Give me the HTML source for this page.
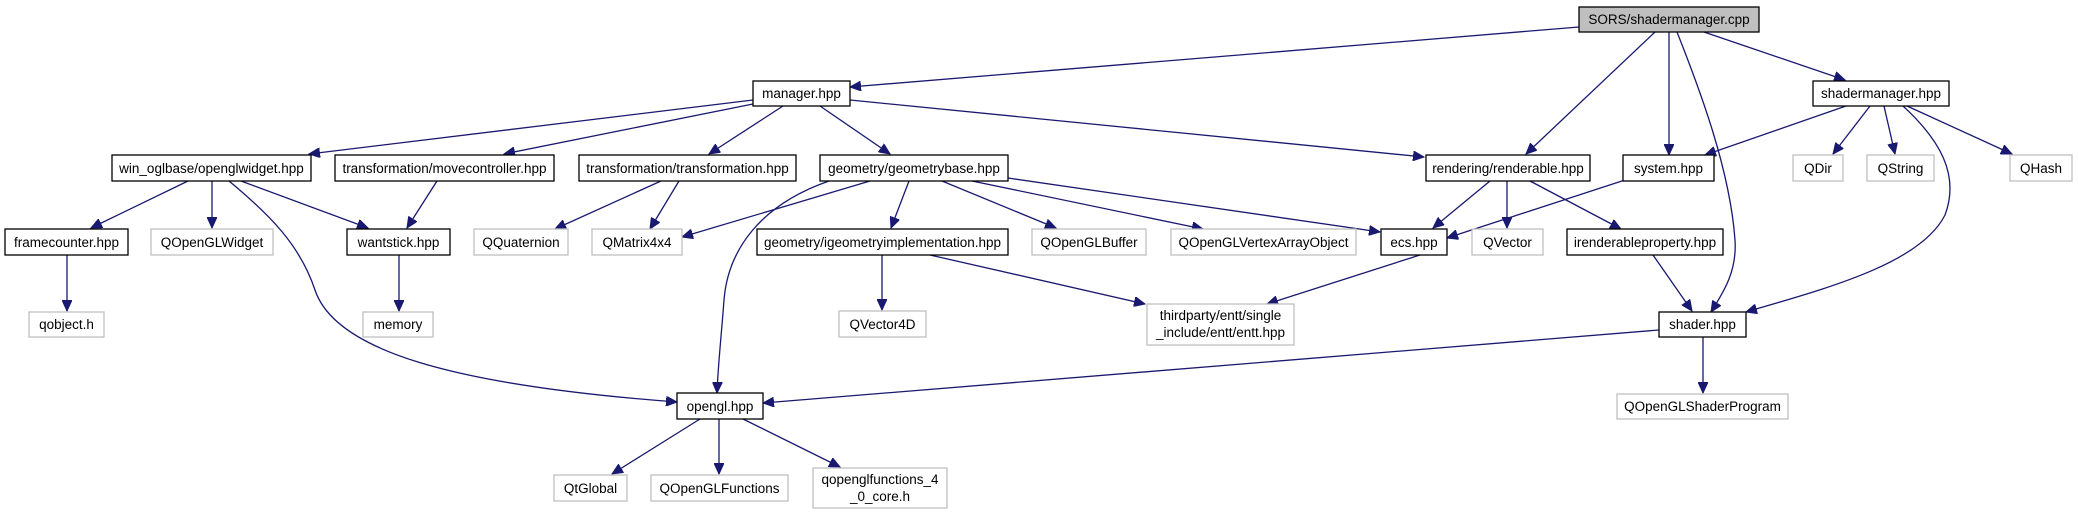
<!DOCTYPE html>
<html><head><meta charset="utf-8"><style>
html,body{margin:0;padding:0;background:#fff;}
svg{display:block;}
text{font-family:"Liberation Sans",Arial,sans-serif;font-size:13.5px;fill:#000;text-anchor:middle;}
.n{fill:#fff;stroke:#000;stroke-width:1.3;}
.g{fill:#fff;stroke:#bfbfbf;stroke-width:1.3;}
.e{fill:none;stroke:#191970;stroke-width:1.3;}
</style></head><body>
<svg width="2078" height="515" viewBox="0 0 2078 515" xmlns="http://www.w3.org/2000/svg">
<defs>
<marker id="a" markerWidth="12" markerHeight="10" refX="11" refY="5" orient="auto" markerUnits="userSpaceOnUse">
<path d="M0,0 L11,5 L0,10 z" fill="#191970" stroke="#191970"/>
</marker>
</defs>
<g marker-end="url(#a)">
<path class="e" d="M1579,27 L850,87"/>
<path class="e" d="M1655,32 L1526,154"/>
<path class="e" d="M1669,32 L1669,155"/>
<path class="e" d="M1677,32 C1700,90 1730,170 1735,240 C1737,270 1725,290 1711,312"/>
<path class="e" d="M1704,32 L1845,80"/>
<path class="e" d="M1903,106 C1940,140 1960,175 1945,215 C1920,265 1820,290 1746,312"/>
<path class="e" d="M753,100 L309,154"/>
<path class="e" d="M753,104 L504,154"/>
<path class="e" d="M783,106 L709,154"/>
<path class="e" d="M820,106 L890,154"/>
<path class="e" d="M850,100 L1424,157"/>
<path class="e" d="M1846,106 L1705,155"/>
<path class="e" d="M1870,106 L1833,154"/>
<path class="e" d="M1884,106 L1895,154"/>
<path class="e" d="M1907,106 L2012,154"/>
<path class="e" d="M188,181 L91,228"/>
<path class="e" d="M212,181 L212,228"/>
<path class="e" d="M241,181 L368,228"/>
<path class="e" d="M229,181 C270,215 300,245 315,290 C335,350 450,385 677,402"/>
<path class="e" d="M437,181 L407,228"/>
<path class="e" d="M661,181 L555,229"/>
<path class="e" d="M679,181 L650,229"/>
<path class="e" d="M870,181 L682,237"/>
<path class="e" d="M829,181 C760,205 728,250 724,300 C721,340 718,365 717,393"/>
<path class="e" d="M909,181 L891,228"/>
<path class="e" d="M942,181 L1056,228"/>
<path class="e" d="M972,181 L1203,229"/>
<path class="e" d="M1008,178 L1380,232"/>
<path class="e" d="M1490,181 L1433,228"/>
<path class="e" d="M1507,181 L1507,228"/>
<path class="e" d="M1530,181 L1621,229"/>
<path class="e" d="M1625,180 L1447,238"/>
<path class="e" d="M67,255 L67,311"/>
<path class="e" d="M399,255 L399,311"/>
<path class="e" d="M882,255 L882,310"/>
<path class="e" d="M930,255 L1145,304"/>
<path class="e" d="M1420,255 L1267,304"/>
<path class="e" d="M1653,255 L1692,311"/>
<path class="e" d="M1659,330 L763,403"/>
<path class="e" d="M1703,337 L1703,393"/>
<path class="e" d="M700,419 L612,474"/>
<path class="e" d="M719,419 L719,474"/>
<path class="e" d="M743,419 L840,467"/>
</g>

<rect x="1579" y="7" width="180" height="25" fill="#bfbfbf" stroke="#000" stroke-width="1.3"/><text x="1669" y="24">SORS/shadermanager.cpp</text>

<rect class="n" x="753" y="81" width="97" height="25"/><text x="801.5" y="98">manager.hpp</text>
<rect class="n" x="1813" y="81" width="136" height="25"/><text x="1881" y="98">shadermanager.hpp</text>

<rect class="n" x="112" y="155" width="199" height="26"/><text x="211.5" y="173">win_oglbase/openglwidget.hpp</text>
<rect class="n" x="335" y="155" width="219" height="26"/><text x="444.5" y="173">transformation/movecontroller.hpp</text>
<rect class="n" x="579" y="155" width="217" height="26"/><text x="687.5" y="173">transformation/transformation.hpp</text>
<rect class="n" x="820" y="155" width="188" height="26"/><text x="914" y="173">geometry/geometrybase.hpp</text>
<rect class="n" x="1426" y="155" width="164" height="26"/><text x="1508" y="173">rendering/renderable.hpp</text>
<rect class="n" x="1623" y="155" width="91" height="26"/><text x="1668.5" y="173">system.hpp</text>
<rect class="g" x="1793" y="155" width="50" height="26"/><text x="1818" y="173">QDir</text>
<rect class="g" x="1867" y="155" width="67" height="26"/><text x="1900.5" y="173">QString</text>
<rect class="g" x="2010" y="155" width="62" height="26"/><text x="2041" y="173">QHash</text>

<rect class="n" x="5" y="229" width="123" height="26"/><text x="66.5" y="247">framecounter.hpp</text>
<rect class="g" x="151" y="229" width="122" height="26"/><text x="212" y="247">QOpenGLWidget</text>
<rect class="n" x="347" y="229" width="103" height="26"/><text x="398.5" y="247">wantstick.hpp</text>
<rect class="g" x="474" y="229" width="94" height="26"/><text x="521" y="247">QQuaternion</text>
<rect class="g" x="592" y="229" width="90" height="26"/><text x="637" y="247">QMatrix4x4</text>
<rect class="n" x="757" y="229" width="251" height="26"/><text x="882.5" y="247">geometry/igeometryimplementation.hpp</text>
<rect class="g" x="1032" y="229" width="114" height="26"/><text x="1089" y="247">QOpenGLBuffer</text>
<rect class="g" x="1171" y="229" width="185" height="26"/><text x="1263.5" y="247">QOpenGLVertexArrayObject</text>
<rect class="n" x="1381" y="229" width="66" height="26"/><text x="1414" y="247">ecs.hpp</text>
<rect class="g" x="1472" y="229" width="71" height="26"/><text x="1507.5" y="247">QVector</text>
<rect class="n" x="1567" y="229" width="156" height="26"/><text x="1645" y="247">irenderableproperty.hpp</text>

<rect class="g" x="29" y="312" width="75" height="25"/><text x="66.5" y="329">qobject.h</text>
<rect class="g" x="363" y="312" width="70" height="25"/><text x="398" y="329">memory</text>
<rect class="g" x="839" y="311" width="87" height="26"/><text x="882.5" y="329">QVector4D</text>
<rect class="g" x="1147" y="304" width="147" height="41"/><text x="1220.5" y="320">thirdparty/entt/single</text><text x="1220.5" y="337">_include/entt/entt.hpp</text>
<rect class="n" x="1659" y="312" width="87" height="25"/><text x="1702.5" y="329">shader.hpp</text>

<rect class="n" x="677" y="393" width="86" height="26"/><text x="720" y="411">opengl.hpp</text>
<rect class="g" x="1617" y="394" width="171" height="25"/><text x="1702.5" y="411">QOpenGLShaderProgram</text>

<rect class="g" x="554" y="475" width="73" height="26"/><text x="590.5" y="493">QtGlobal</text>
<rect class="g" x="651" y="475" width="137" height="26"/><text x="719.5" y="493">QOpenGLFunctions</text>
<rect class="g" x="813" y="468" width="134" height="40"/><text x="880" y="484">qopenglfunctions_4</text><text x="880" y="501">_0_core.h</text>
</svg>
</body></html>
